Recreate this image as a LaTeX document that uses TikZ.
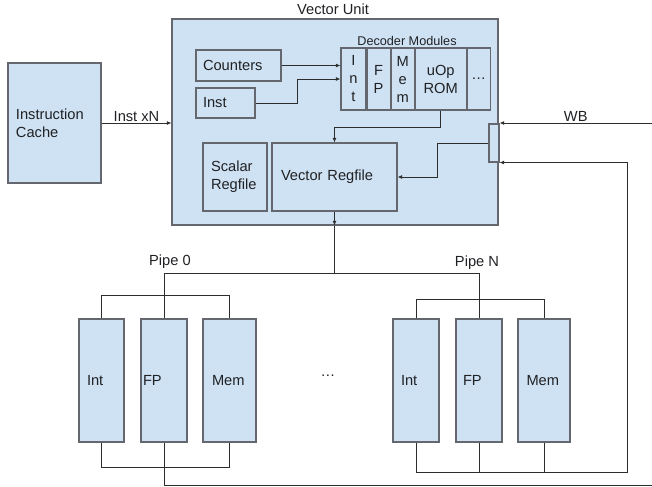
\documentclass[tikz,border=0pt]{standalone}
\usepackage{fontspec}
\setmainfont{Liberation Sans}
\usepackage{tikz}
\usetikzlibrary{arrows.meta,positioning}
\definecolor{BoxFill}{RGB}{207,226,243}
\definecolor{BoxLine}{RGB}{100,104,110}
\definecolor{WireGray}{RGB}{45,45,45}
\definecolor{TextDark}{RGB}{32,33,36}

\begin{document}
\begin{tikzpicture}[
    x=0.75pt, y=-0.75pt,
    every node/.style={font=\fontsize{11}{13.5}\selectfont, text=TextDark},
    box/.style={draw=BoxLine, line width=0.8pt, fill=BoxFill, inner sep=0pt, align=left},
    column/.style={box, align=center, minimum height=46.5pt, minimum width=#1},
    unitbox/.style={box, minimum height=92.25pt},
    wire/.style={draw=WireGray, line width=0.6pt},
    tip/.style={-{Latex[length=3.5pt,width=3pt]}}
]
    \useasboundingbox (0,0) rectangle (652,486);

    % front end
    \node[box, minimum width=69.75pt, minimum height=90pt, text width=57.75pt] (cache) at (54.5,123) {Instruction\\Cache};
    \node[box, minimum width=244.5pt, minimum height=154.5pt] (vu) at (335,122) {};
    \node (vutitle) at (333,9) {Vector Unit};

    \node[box, minimum width=63.75pt, minimum height=23.25pt, text width=53.25pt] (counters) at (238.5,65.5) {Counters};
    \node[box, minimum width=44.25pt, minimum height=22.5pt, text width=33.75pt] (inst) at (225.5,103) {Inst};

    % decoder modules
    \node[column=18.75pt] (int) at (353.5,79) {I\\n\\t};
    \node[column=17.25pt, right=0pt of int] (fp) {F\\P};
    \node[column=17.25pt, right=0pt of fp] (mem) {M\\e\\m};
    \node[column=38.25pt, right=0pt of mem] (rom) {uOp\\ROM};
    \node[column=17.25pt, right=0pt of rom] (more) {\dots};
    \node[font=\fontsize{9.5}{11}\selectfont] (dectitle) at (407,41) {Decoder Modules};

    \node[box, minimum width=48pt, minimum height=51pt, text width=36pt] (sreg) at (235,177) {Scalar\\Regfile};
    \node[box, minimum width=93.75pt, minimum height=51pt, text width=80.25pt] (vreg) at (334.5,177) {Vector Regfile};
    \node[box, minimum width=7.5pt, minimum height=28.5pt] (mux) at (494,143) {};

    % pipes
    \node[unitbox, minimum width=33.75pt, text width=21.75pt] (int0) at (101.5,380.5) {Int};
    \node[unitbox, minimum width=34.5pt, text width=31.5pt] (fp0) at (164,380.5) {FP};
    \node[unitbox, minimum width=39.75pt, text width=26.25pt] (mem0) at (229.5,380.5) {Mem};
    \node[unitbox, minimum width=34.5pt, text width=22.5pt] (intN) at (416,380.5) {Int};
    \node[unitbox, minimum width=34.5pt, text width=24pt] (fpN) at (479,380.5) {FP};
    \node[unitbox, minimum width=39pt, text width=26.25pt] (memN) at (544,380.5) {Mem};
    \node (pipe0) at (170,262) {Pipe 0};
    \node (pipeN) at (477,263) {Pipe N};
    \node[anchor=base] (gap) at (328,376) {\dots};

    \coordinate (wb) at (652,123);
    \coordinate (exit) at (652,485);
    \coordinate (ret) at (627,472);

    % connectors
    \draw[wire, tip] (cache.east) -- (vu.west |- cache.east) node[midway, above, inner sep=1pt] (instxn) {Inst xN};
    \draw[wire, tip] (counters.east) -- (counters.east -| int.west);
    \draw[wire, tip] (inst.east) -- ++(42,0) |- (int.west);
    \draw[wire, tip] (rom.south) -- ++(0,17) -| (vreg.north);
    \draw[wire, tip] (mux.west) -- ++(-51,0) |- (vreg.east);
    \draw[wire, tip] (wb) -- (wb -| mux.east) node[midway, above, inner sep=1pt] (wblabel) {WB};

    \draw[wire, tip] (vreg.south) -- (vu.south -| vreg.south);
    \draw[wire] (vu.south -| vreg.south) -- ++(0,48) coordinate (split);
    \draw[wire] (split) -| (fp0.north);
    \draw[wire] (split) -| (fpN.north);

    \draw[wire] (int0.north) -- ++(0,-23) -| (mem0.north);
    \draw[wire] (int0.south) -- ++(0,25) -| (mem0.south);
    \draw[wire] (fp0.south) |- (exit);

    \draw[wire] (intN.north) -- ++(0,-19) -| (memN.north);
    \draw[wire, tip] (intN.south) |- (ret) |- (mux.south east);
    \draw[wire] (fpN.south) -- (fpN.south |- ret);
    \draw[wire] (memN.south) -- (memN.south |- ret);
\end{tikzpicture}
\end{document}
